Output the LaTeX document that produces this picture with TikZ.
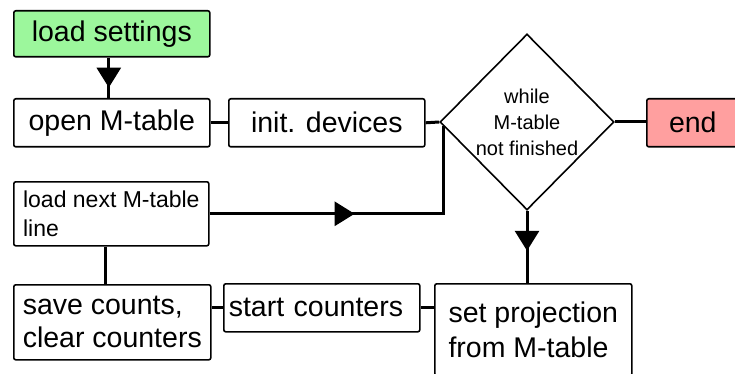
\documentclass[tikz,border=0pt]{standalone}
\usepackage{fontspec}
\setmainfont{Liberation Sans}
\usetikzlibrary{shapes.geometric,arrows.meta,decorations.markings,calc}

\definecolor{startgreen}{HTML}{9CF79C}
\definecolor{endpink}{HTML}{FF9F9F}

\begin{document}
\begin{tikzpicture}[x=1pt,y=-1pt,
  box/.style={draw, line width=1.6pt, rounded corners=2pt, inner sep=0pt,
    anchor=north west, align=center, font=\fontsize{28.5}{33}\selectfont},
  leftbox/.style={box, align=left},
  decision/.style={diamond, draw, line width=1.6pt, inner sep=0pt, fill=white,
    minimum width=174pt, minimum height=176pt, align=center,
    font=\fontsize{20}{26}\selectfont},
  link/.style={line width=3pt},
  midarrow/.style={postaction={decorate}, decoration={markings,
    mark=at position #1 with {\arrow{Triangle[length=20pt,width=24pt]}}}}
]
\useasboundingbox (0,0) rectangle (735,374);

% boxes of the flow
\node[box, fill=startgreen, minimum width=196pt, minimum height=46pt] (ls) at (13,10) {load settings};
\node[box, minimum width=196pt, minimum height=48pt] (om) at (13,98) {open M-table};
\node[box, minimum width=196pt, minimum height=48pt] (id) at (228,98) {init. devices};
\node[decision] (dm) at (527,122) {while\\M-table\\not finished};
\node[box, fill=endpink, minimum width=92pt, minimum height=48pt] (en) at (646,98) {end};
\node[leftbox, minimum width=195pt, minimum height=64pt, font=\fontsize{23}{29}\selectfont] (ln) at (13,181) {load next M-table\\line};
\node[leftbox, minimum width=197pt, minimum height=75pt] (sv) at (13,284) {save counts,\\clear counters};
\node[leftbox, inner xsep=5pt, text width=186pt, minimum height=48pt] (sc) at (223,283) {start counters};
\node[leftbox, minimum width=197pt, minimum height=92pt, font=\fontsize{28.5}{35}\selectfont] (sp) at (434,283) {set projection\\from M-table};

% entry point of the loop back into the decision
\coordinate (dmin) at ($(dm.west)+(4,4)$);

% connectors
\draw[link, midarrow=30pt] ([xshift=-3pt]ls.south) -- ([xshift=-3pt]ls.south |- om.north);
\draw[link] (om.east) -- (om.east -| id.west);
\draw[link] (id.east) -- (dm.west);
\draw[link] (dm.east) -- (dm.east -| en.west);
\draw[link, midarrow=40pt] (dm.south) -- (dm.south |- sp.north);
\draw[link, midarrow=145pt] (ln.east) -| (dmin);
\draw[link] ([xshift=-6pt]ln.south) -- ([xshift=-6pt]ln.south |- sv.north);
\draw[link] (sc.west -| sv.east) -- (sc.west);
\draw[link] (sc.east) -- (sc.east -| sp.west);
\end{tikzpicture}
\end{document}
